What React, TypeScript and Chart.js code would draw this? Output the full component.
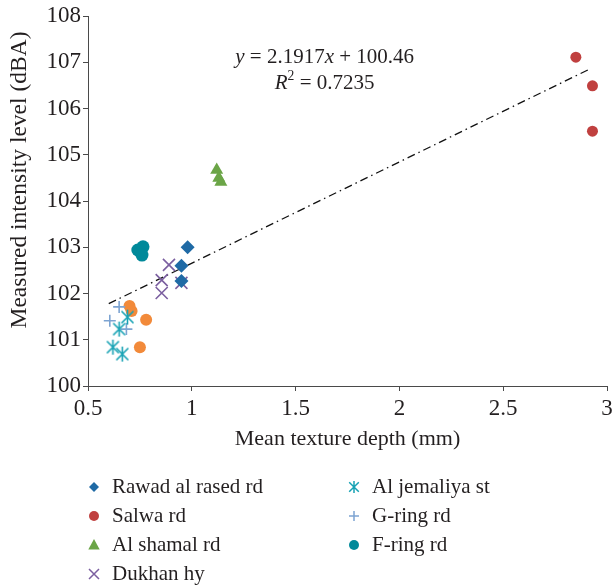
import React, { useEffect, useRef } from 'react';
import { Chart, registerables } from 'chart.js';

Chart.register(...registerables);

// ---------- data ----------
const xTicks = [0.5, 1, 1.5, 2, 2.5, 3];
const yTicks = [100, 101, 102, 103, 104, 105, 106, 107, 108];

const rawadX = [0.98, 0.95, 0.95];
const rawadY = [103.0, 102.6, 102.27];
const salwaX = [2.85, 2.93, 2.93];
const salwaY = [107.11, 106.49, 105.51];
const shamalX = [1.12, 1.13, 1.14];
const shamalY = [104.67, 104.5, 104.41];
const dukhanX = [0.89, 0.855, 0.855, 0.95];
const dukhanY = [102.62, 102.29, 102.01, 102.23];
const jemaliyaX = [0.69, 0.65, 0.62, 0.665];
const jemaliyaY = [101.49, 101.23, 100.84, 100.69];
const gringX = [0.65, 0.605, 0.685];
const gringY = [101.71, 101.41, 101.23];
const fringX = [0.74, 0.765, 0.76];
const fringY = [102.94, 103.01, 102.83];
const otherX = [0.7, 0.71, 0.78, 0.75];
const otherY = [101.73, 101.62, 101.43, 100.84];
const trendX = [0.6, 2.92];
const trendY = [101.78, 106.86];

const equationLine1 = ['y', ' = 2.1917', 'x', ' + 100.46'];
const equationLine2 = ['R', '2', ' = 0.7235'];
const xTitle = 'Mean texture depth (mm)';
const yTitle = 'Measured intensity level (dBA)';

const FONT = "'Liberation Serif', 'DejaVu Serif', serif";
const TEXT = '#231f20';
const AXIS = '#4a4a4a';

type Series = { name: string; xs: number[]; ys: number[]; style: string; color: string; r: number; legend: boolean };

const series: Series[] = [
  { name: 'Rawad al rased rd', xs: rawadX, ys: rawadY, style: 'rectRot', color: '#1f6aa5', r: 7, legend: true },
  { name: 'Salwa rd', xs: salwaX, ys: salwaY, style: 'circle', color: '#c0403f', r: 5.5, legend: true },
  { name: 'Al shamal rd', xs: shamalX, ys: shamalY, style: 'triangle', color: '#6ba547', r: 7.5, legend: true },
  { name: 'Dukhan hy', xs: dukhanX, ys: dukhanY, style: 'crossRot', color: '#7b5fa0', r: 8.5, legend: true },
  { name: 'Al jemaliya st', xs: jemaliyaX, ys: jemaliyaY, style: 'asterisk', color: '#17a2b4', r: 7.5, legend: true },
  { name: 'G-ring rd', xs: gringX, ys: gringY, style: 'cross', color: '#7da4d2', r: 6, legend: true },
  { name: 'F-ring rd', xs: fringX, ys: fringY, style: 'circle', color: '#00899a', r: 6.5, legend: true },
  { name: 'Other', xs: otherX, ys: otherY, style: 'circle', color: '#f28a3a', r: 6, legend: false },
];

function makeAsterisk(color: string, r: number, lw: number) {
  const s = Math.ceil(r * 2 + 2);
  const c = document.createElement('canvas');
  c.width = s;
  c.height = s;
  const ctx = c.getContext('2d')!;
  const m = s / 2;
  ctx.strokeStyle = color;
  ctx.lineWidth = lw;
  const d = r * 0.8;
  ctx.beginPath();
  ctx.moveTo(m - d, m - d);
  ctx.lineTo(m + d, m + d);
  ctx.moveTo(m + d, m - d);
  ctx.lineTo(m - d, m + d);
  ctx.moveTo(m, m - r);
  ctx.lineTo(m, m + r);
  ctx.stroke();
  return c;
}

function drawMarker(ctx: CanvasRenderingContext2D, style: string, x: number, y: number, r: number, color: string) {
  ctx.save();
  ctx.fillStyle = color;
  ctx.strokeStyle = color;
  ctx.lineWidth = 1.5;
  ctx.beginPath();
  if (style === 'rectRot') {
    ctx.moveTo(x, y - r);
    ctx.lineTo(x + r, y);
    ctx.lineTo(x, y + r);
    ctx.lineTo(x - r, y);
    ctx.closePath();
    ctx.fill();
  } else if (style === 'circle') {
    ctx.arc(x, y, r, 0, Math.PI * 2);
    ctx.fill();
  } else if (style === 'triangle') {
    ctx.moveTo(x, y - r);
    ctx.lineTo(x + r * 0.95, y + r * 0.75);
    ctx.lineTo(x - r * 0.95, y + r * 0.75);
    ctx.closePath();
    ctx.fill();
  } else if (style === 'crossRot') {
    ctx.moveTo(x - r, y - r);
    ctx.lineTo(x + r, y + r);
    ctx.moveTo(x + r, y - r);
    ctx.lineTo(x - r, y + r);
    ctx.stroke();
  } else if (style === 'cross') {
    ctx.moveTo(x - r, y);
    ctx.lineTo(x + r, y);
    ctx.moveTo(x, y - r);
    ctx.lineTo(x, y + r);
    ctx.stroke();
  } else if (style === 'asterisk') {
    const d = r * 0.8;
    ctx.moveTo(x - d, y - d);
    ctx.lineTo(x + d, y + d);
    ctx.moveTo(x + d, y - d);
    ctx.lineTo(x - d, y + d);
    ctx.moveTo(x, y - r);
    ctx.lineTo(x, y + r);
    ctx.stroke();
  }
  ctx.restore();
}

const overlayPlugin = {
  id: 'overlay',
  afterDraw(chart: any) {
    const ctx: CanvasRenderingContext2D = chart.ctx;
    const xs = chart.scales.x;
    const ys = chart.scales.y;
    const area = chart.chartArea;
    ctx.save();
    ctx.fillStyle = TEXT;

    // axis titles
    ctx.font = `22px ${FONT}`;
    ctx.textAlign = 'center';
    ctx.textBaseline = 'middle';
    ctx.fillText(xTitle, (area.left + area.right) / 2, 439);

    ctx.save();
    ctx.translate(20, 180);
    ctx.rotate(-Math.PI / 2);
    ctx.font = `23.5px ${FONT}`;
    ctx.fillText(yTitle, 0, 0);
    ctx.restore();

    // regression equation
    const cx = xs.getPixelForValue(1.64);
    const y1 = ys.getPixelForValue(107.1);
    const y2 = ys.getPixelForValue(106.55);
    const size = 21;
    const fonts1 = [`italic ${size}px ${FONT}`, `${size}px ${FONT}`, `italic ${size}px ${FONT}`, `${size}px ${FONT}`];
    ctx.textAlign = 'left';
    ctx.textBaseline = 'middle';
    let w = 0;
    equationLine1.forEach((t, i) => { ctx.font = fonts1[i]; w += ctx.measureText(t).width; });
    let px = cx - w / 2;
    equationLine1.forEach((t, i) => { ctx.font = fonts1[i]; ctx.fillText(t, px, y1); px += ctx.measureText(t).width; });

    const fonts2 = [`italic ${size}px ${FONT}`, `${size * 0.65}px ${FONT}`, `${size}px ${FONT}`];
    const offs = [0, -7, 0];
    w = 0;
    equationLine2.forEach((t, i) => { ctx.font = fonts2[i]; w += ctx.measureText(t).width; });
    px = cx - w / 2;
    equationLine2.forEach((t, i) => { ctx.font = fonts2[i]; ctx.fillText(t, px, y2 + offs[i]); px += ctx.measureText(t).width; });

    // legend (two columns, column-major)
    ctx.font = `21px ${FONT}`;
    ctx.textBaseline = 'middle';
    const items = series.filter((s) => s.legend);
    const colX = [94, 354];
    const rowY0 = 487;
    const rowH = 29;
    items.forEach((s, i) => {
      const col = i < 4 ? 0 : 1;
      const row = i < 4 ? i : i - 4;
      const mx = colX[col];
      const my = rowY0 + row * rowH;
      const lr = s.style === 'crossRot' ? 5 : s.style === 'triangle' ? 6 : s.style === 'asterisk' ? 6 : 5;
      drawMarker(ctx, s.style, mx, my, lr, s.color);
      ctx.fillStyle = TEXT;
      ctx.fillText(s.name, mx + 18, my);
    });
    ctx.restore();
  },
};

export default function App() {
  const canvasRef = useRef<HTMLCanvasElement | null>(null);

  useEffect(() => {
    if (!canvasRef.current) return;
    const datasets: any[] = series.map((s, i) => ({
      type: 'scatter',
      label: s.name,
      data: s.xs.map((x, j) => ({ x, y: s.ys[j] })),
      pointStyle: s.style === 'asterisk' ? makeAsterisk(s.color, s.r, 1.6) : s.style,
      pointRadius: s.r,
      pointHoverRadius: s.r,
      pointBackgroundColor: s.color,
      pointBorderColor: s.color,
      pointBorderWidth: s.style === 'crossRot' || s.style === 'cross' ? 1.6 : 0,
      backgroundColor: s.color,
      borderColor: s.color,
      order: i + 1,
    }));
    datasets.push({
      type: 'line',
      label: 'Trend',
      data: trendX.map((x, j) => ({ x, y: trendY[j] })),
      borderColor: '#111',
      borderWidth: 1.3,
      borderDash: [8, 4, 1.5, 4],
      pointRadius: 0,
      fill: false,
      order: 50,
    });

    const chart = new Chart(canvasRef.current, {
      type: 'scatter',
      data: { datasets },
      options: {
        animation: false,
        responsive: false,
        layout: { autoPadding: false, padding: { top: 16, right: 6, bottom: 132, left: 0 } },
        plugins: { legend: { display: false }, tooltip: { enabled: false } },
        scales: {
          x: {
            type: 'linear',
            min: xTicks[0],
            max: xTicks[xTicks.length - 1],
            afterBuildTicks: (s: any) => { s.ticks = xTicks.map((v) => ({ value: v })); },
            afterFit: (s: any) => { s.height = 70; s.paddingLeft = 0; s.paddingRight = 0; },
            ticks: { font: { family: FONT, size: 23 }, color: TEXT, padding: 4, maxRotation: 0, callback: (v: any) => String(v) },
            grid: { drawOnChartArea: false, drawTicks: true, tickLength: 5, color: AXIS },
            border: { color: AXIS, width: 1 },
          },
          y: {
            type: 'linear',
            min: yTicks[0],
            max: yTicks[yTicks.length - 1],
            afterBuildTicks: (s: any) => { s.ticks = yTicks.map((v) => ({ value: v })); },
            afterFit: (s: any) => { s.width = 88; s.paddingTop = 0; s.paddingBottom = 0; },
            ticks: { font: { family: FONT, size: 23 }, color: TEXT, padding: 2, callback: (v: any) => String(v) },
            grid: { drawOnChartArea: false, drawTicks: true, tickLength: 5, color: AXIS },
            border: { color: AXIS, width: 1 },
          },
        },
      },
      plugins: [overlayPlugin],
    } as any);
    return () => chart.destroy();
  }, []);

  return (
    <div style={{ position: 'fixed', left: 0, top: 0, width: 613, height: 588, background: '#fff' }}>
      <canvas ref={canvasRef} width={613} height={588} style={{ width: 613, height: 588 }} />
    </div>
  );
}
